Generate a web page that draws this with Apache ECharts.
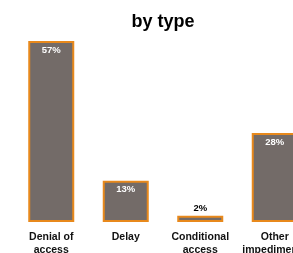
<!DOCTYPE html>
<html>
<head>
<meta charset="utf-8">
<script src="https://cdn.jsdelivr.net/npm/echarts@6/dist/echarts.min.js"></script>
<style>
  html, body { margin: 0; padding: 0; background: #fff; overflow: hidden; }
  #chart { width: 293px; height: 253px; }
</style>
</head>
<body>
<div id="chart"></div>
<script>
const categories = ['Denial of\naccess', 'Delay', 'Conditional\naccess', 'Other\nimpediments']
const shares = [57, 13, 2, 28]

const chart = echarts.init(document.getElementById('chart'))

chart.setOption({
  backgroundColor: '#fff',
  animation: false,
  title: {
    text: 'by type',
    left: 158,
    textAlign: 'center',
    top: 8,
    textStyle: { fontFamily: 'Liberation Sans', fontWeight: 'bold', fontSize: 18, color: '#000' },
  },
  // plot runs past the right edge, as in the original crop
  grid: { left: 14, width: 298, top: 41, bottom: 31, outerBoundsMode: 'none' },
  xAxis: {
    type: 'category',
    data: categories,
    axisLine: { show: false },
    axisTick: { show: false },
    axisLabel: {
      interval: 0,
      margin: 9,
      color: '#111',
      fontFamily: 'Liberation Sans',
      fontWeight: 'bold',
      fontSize: 10.5,
      lineHeight: 13,
    },
  },
  yAxis: { type: 'value', min: 0, max: 57, show: false },
  series: [
    {
      type: 'bar',
      data: shares.map((v) => ({
        value: v,
        label: v < 5
          ? { position: 'top', color: '#000', distance: 2 }
          : { position: 'insideTop', color: '#fff', distance: 4 },
      })),
      barWidth: 46,
      itemStyle: { color: '#736b68', borderColor: '#e8891c', borderWidth: 2 },
      label: {
        show: true,
        formatter: '{c}%',
        fontFamily: 'Liberation Sans',
        fontWeight: 'bold',
        fontSize: 9.5,
      },
    },
  ],
})
</script>
</body>
</html>
